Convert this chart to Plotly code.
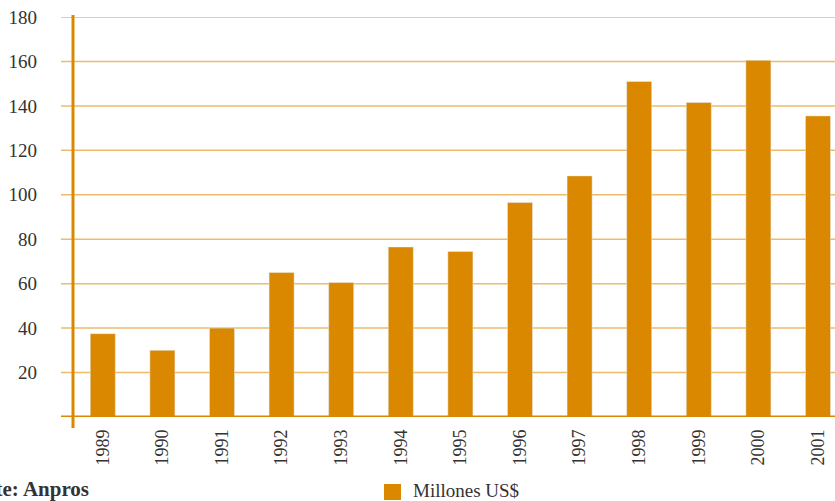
import plotly.graph_objects as go

years = ["1989", "1990", "1991", "1992", "1993", "1994", "1995",
         "1996", "1997", "1998", "1999", "2000", "2001"]
values = [37.5, 30, 40, 65, 60.5, 76.5, 74.5, 96.5, 108.5, 151, 141.5, 160.5, 135.5]
y_ticks = [20, 40, 60, 80, 100, 120, 140, 160, 180]
series_name = "Millones US$"
source_text = "Fuente: Anpros"

BAR = "#D98800"
GRID = "#EDBB6A"
TXT = "#333333"
FONT = "Liberation Serif"

W, H = 835, 501
L, T, B = 73, 17, 84
PW = W - L
PH = H - T - B

fig = go.Figure()
fig.add_trace(go.Bar(x=years, y=values, name=series_name, marker_color=BAR,
                     width=0.42, showlegend=False))

ext = -12 / PW
shapes = []
for v in y_ticks:
    shapes.append(dict(type="line", xref="paper", yref="y", x0=ext, x1=1, y0=v, y1=v,
                       line=dict(color=GRID, width=1.5), layer="below"))
# x axis line
shapes.append(dict(type="line", xref="paper", yref="y", x0=ext, x1=1, y0=0, y1=0,
                   line=dict(color=BAR, width=3)))
# y axis line
shapes.append(dict(type="line", xref="paper", yref="paper", x0=0, x1=0,
                   y0=-11 / PH, y1=1 + 2 / PH, line=dict(color=BAR, width=3)))
# legend square
lx0 = (384 - L) / PW
lx1 = (401 - L) / PW
shapes.append(dict(type="rect", xref="paper", yref="paper", x0=lx0, x1=lx1,
                   y0=(417 - 500) / PH, y1=(417 - 484) / PH,
                   fillcolor=BAR, line=dict(width=0)))

annotations = [
    dict(text=series_name, xref="paper", yref="paper", x=(411 - L) / PW,
         y=(417 - 490) / PH, xanchor="left", yanchor="middle", showarrow=False,
         font=dict(family=FONT, size=19, color=TXT)),
    dict(text="<b>" + source_text + "</b>", xref="paper", yref="paper", x=(91 - L) / PW,
         y=(417 - 489) / PH, xanchor="right", yanchor="middle", showarrow=False,
         font=dict(family=FONT, size=21, color=TXT)),
]

fig.update_layout(
    width=W, height=H,
    margin=dict(l=L, r=0, t=T, b=B, pad=0),
    paper_bgcolor="white", plot_bgcolor="white",
    bargap=0.58,
    showlegend=False,
    shapes=shapes,
    annotations=annotations,
    xaxis=dict(type="category", range=[-0.5, -0.5 + PW / 59.6], showgrid=False,
               showline=False, zeroline=False, ticks="", tickangle=-90,
               ticklabelstandoff=8,
               tickfont=dict(family=FONT, size=18, color=TXT)),
    yaxis=dict(range=[0, 180], tickvals=y_ticks, showgrid=False, zeroline=False,
               showline=False, ticks="", ticklabelstandoff=35,
               tickfont=dict(family=FONT, size=19, color=TXT)),
)

fig.write_html("out.html")
